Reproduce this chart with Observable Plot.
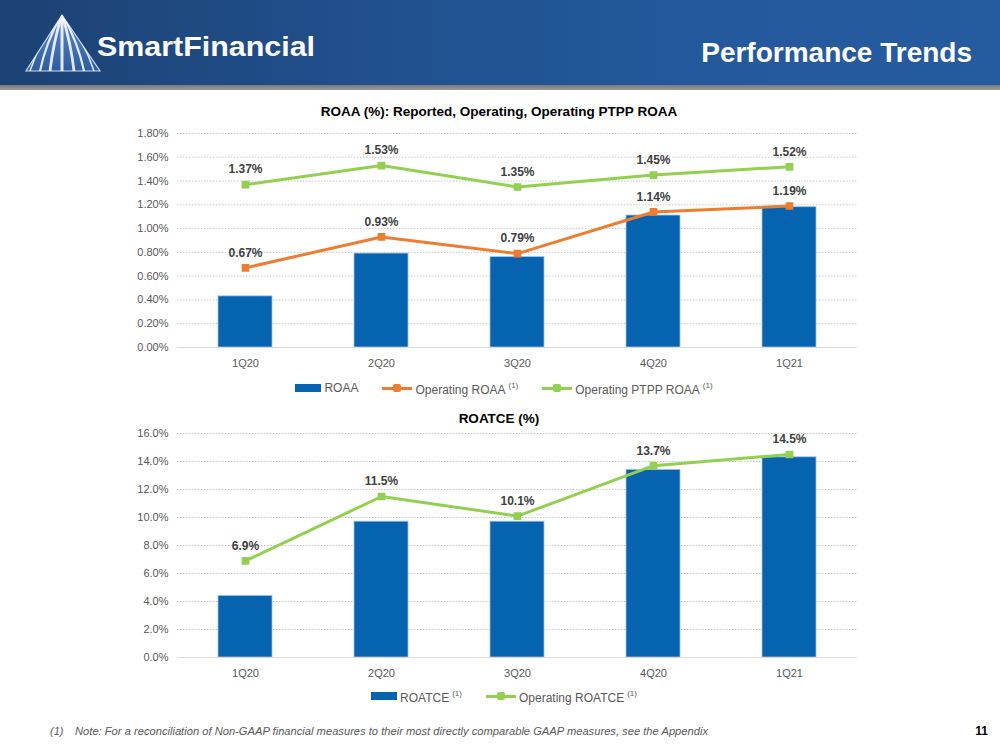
<!DOCTYPE html>
<html>
<head>
<meta charset="utf-8">
<script src="https://cdn.jsdelivr.net/npm/d3@7"></script>
<script src="https://cdn.jsdelivr.net/npm/@observablehq/plot@0.6"></script>
<style>
  body { margin:0; width:1000px; height:750px; position:relative; background:#fff; overflow:hidden; font-family:"Liberation Sans", Arial, sans-serif; }
  .abs { position:absolute; }
  .ctitle { position:absolute; left:0; width:998px; text-align:center; font-weight:bold; font-size:13.5px; color:#000; line-height:18px; }
  .legend { position:absolute; left:0; width:1008px; display:flex; justify-content:center; align-items:center; gap:24px; font-size:12px; color:#595959; line-height:14px; }
  .item { display:flex; align-items:center; gap:3px; }
  .item sup { font-size:8px; vertical-align:6px; margin-left:3px; }
  .swatch { width:26px; height:8px; background:#0563B0; }
  .lsw { position:relative; width:30px; height:10px; }
  .lsw .ln { position:absolute; left:0; right:0; top:3.5px; height:3px; }
  .lsw .pt { position:absolute; left:11px; top:1px; width:8px; height:8px; border-radius:2px; }
</style>
</head>
<body>
<script>
// ---- data ----
const quarters = ["1Q20", "2Q20", "3Q20", "4Q20", "1Q21"];
const roaa = [0.43, 0.79, 0.76, 1.11, 1.18];
const operatingRoaa = [0.67, 0.93, 0.79, 1.14, 1.19];
const operatingPtppRoaa = [1.37, 1.53, 1.35, 1.45, 1.52];
const roaaTicks = [0, 0.2, 0.4, 0.6, 0.8, 1.0, 1.2, 1.4, 1.6, 1.8];
const roatce = [4.4, 9.7, 9.7, 13.4, 14.3];
const operatingRoatce = [6.9, 11.5, 10.1, 13.7, 14.5];
const roatceTicks = [0, 2, 4, 6, 8, 10, 12, 14, 16];

const BLUE = "#0563B0", ORANGE = "#ED7D31", GREEN = "#92D050";
const FONT = "'Liberation Sans', Arial, sans-serif";

function chart(bars, lines, ticks, yMax, height, fmtTick, fmtLabel) {
  const marks = [
    Plot.ruleY(ticks.filter(d => d > 0), {stroke: "#c8c8c8", strokeDasharray: "1.5,1.5", strokeWidth: 1}),
    Plot.barY(quarters, {x: d => d, y: bars, fill: BLUE, stroke: "#9dc3e6", strokeWidth: 0.8}),
    Plot.ruleY([0], {stroke: "#d9d9d9", strokeWidth: 1})
  ];
  for (const [vals, color] of lines) {
    marks.push(Plot.lineY(quarters, {x: d => d, y: vals, stroke: color, strokeWidth: 3}));
    marks.push(Plot.dot(quarters, {x: d => d, y: vals, fill: color, stroke: color, r: 3.5, symbol: "square"}));
    marks.push(Plot.text(quarters, {x: d => d, y: vals, text: (d, i) => fmtLabel(vals[i]), dy: -15,
      fontWeight: "bold", fontSize: 12, fill: "#404040"}));
  }
  return Plot.plot({
    width: 1000, height,
    marginLeft: 177, marginRight: 143, marginTop: 8, marginBottom: 28,
    style: {fontFamily: FONT, fontSize: "11px", color: "#595959", background: "transparent", overflow: "visible"},
    x: {domain: quarters, paddingInner: 0.6, paddingOuter: 0.3, tickSize: 0, tickPadding: 12, label: null},
    y: {domain: [0, yMax], ticks: ticks, tickFormat: fmtTick, tickSize: 0, tickPadding: 9, label: null},
    marks
  });
}

const roaaChart = chart(roaa, [[operatingRoaa, ORANGE], [operatingPtppRoaa, GREEN]], roaaTicks, 1.8, 250,
  d => d.toFixed(2) + "%", v => v.toFixed(2) + "%");
roaaChart.style.position = "absolute"; roaaChart.style.left = "0px"; roaaChart.style.top = "125px";

const roatceChart = chart(roatce, [[operatingRoatce, GREEN]], roatceTicks, 16, 260,
  d => d.toFixed(1) + "%", v => v.toFixed(1) + "%");
roatceChart.style.position = "absolute"; roatceChart.style.left = "0px"; roatceChart.style.top = "425px";

document.body.insertAdjacentHTML("beforeend", `
<div class="abs" style="left:0;top:0;width:1000px;height:85px;background:linear-gradient(to right,#1c4274,#21518f 40%,#245a9d 75%,#255c9f);"></div>
<div class="abs" style="left:0;top:85px;width:1000px;height:5px;background:linear-gradient(#7a7a7a,#9a9a9a);"></div>
<svg class="abs" style="left:0;top:0" width="1000" height="90">
  <defs>
    <clipPath id="tri"><polygon points="62,15 26,71 100,71"/></clipPath>
    <linearGradient id="tg" x1="0" y1="0" x2="0" y2="1"><stop offset="0" stop-color="#5f8cc8"/><stop offset="1" stop-color="#2d5c9e"/></linearGradient>
  </defs>
  <polygon points="62,15 26,71 100,71" fill="url(#tg)" stroke="#c9d7ea" stroke-width="1.2"/>
  <g clip-path="url(#tri)" stroke="#ffffff" stroke-opacity="0.85" fill="none">
    <path d="M62,14 Q40,40 30,71" stroke-width="1.5"/>
    <path d="M62,14 Q46,42 40,71" stroke-width="2.2"/>
    <path d="M62,14 Q53,44 50,71" stroke-width="2.8"/>
    <path d="M62,14 L62,71" stroke-width="3"/>
    <path d="M62,14 Q71,44 74,71" stroke-width="2.8"/>
    <path d="M62,14 Q78,42 84,71" stroke-width="2.2"/>
    <path d="M62,14 Q84,40 94,71" stroke-width="1.5"/>
  </g>
  <text x="97" y="56" fill="#fff" font-family="${FONT}" font-weight="bold" font-size="28" textLength="218" lengthAdjust="spacingAndGlyphs">SmartFinancial</text>
  <text x="972" y="62" fill="#fff" text-anchor="end" font-family="${FONT}" font-weight="bold" font-size="28">Performance Trends</text>
</svg>
<div class="ctitle" style="top:103px;">ROAA (%): Reported, Operating, Operating PTPP ROAA</div>
<div class="ctitle" style="top:410px;">ROATCE (%)</div>
<div class="legend" style="top:379px;">
  <div class="item"><div class="swatch"></div><span>ROAA</span></div>
  <div class="item"><div class="lsw"><div class="ln" style="background:${ORANGE}"></div><div class="pt" style="background:${ORANGE}"></div></div><span>Operating ROAA<sup>(1)</sup></span></div>
  <div class="item"><div class="lsw"><div class="ln" style="background:${GREEN}"></div><div class="pt" style="background:${GREEN}"></div></div><span>Operating PTPP ROAA<sup>(1)</sup></span></div>
</div>
<div class="legend" style="top:687px;">
  <div class="item"><div class="swatch"></div><span>ROATCE<sup>(1)</sup></span></div>
  <div class="item"><div class="lsw"><div class="ln" style="background:${GREEN}"></div><div class="pt" style="background:${GREEN}"></div></div><span>Operating ROATCE<sup>(1)</sup></span></div>
</div>
<svg class="abs" style="left:0;top:715px" width="1000" height="35">
  <text x="50" y="20" fill="#595959" font-family="'Liberation Sans Narrow', ${FONT}" font-style="italic" font-size="11">(1)</text>
  <text x="75" y="20" fill="#595959" font-family="'Liberation Sans Narrow', ${FONT}" font-style="italic" font-size="11" textLength="633" lengthAdjust="spacingAndGlyphs">Note: For a reconciliation of Non-GAAP financial measures to their most directly comparable GAAP measures, see the Appendix</text>
  <text x="988" y="20" fill="#000" text-anchor="end" font-family="${FONT}" font-weight="bold" font-size="12">11</text>
</svg>
`);
document.body.appendChild(roaaChart);
document.body.appendChild(roatceChart);
</script>
</body>
</html>
